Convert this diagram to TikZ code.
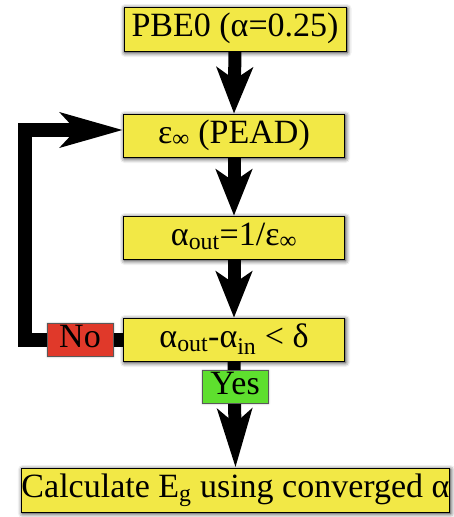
\documentclass[tikz,border=0pt]{standalone}
\usepackage{fontspec}
\setmainfont{Liberation Serif}
\usetikzlibrary{arrows.meta,shadows.blur,backgrounds}
\definecolor{boxyellow}{RGB}{242,232,70}
\definecolor{nored}{RGB}{224,57,42}
\definecolor{yesgreen}{RGB}{94,223,46}
\tikzset{
  boxfont/.style={font=\fontsize{34}{37}\selectfont},
  stepbox/.style={boxfont, draw=black, line width=0.8pt, fill=boxyellow, inner sep=0pt,
    text height=22pt, text depth=7pt,
    blur shadow={shadow xshift=1pt, shadow yshift=-1.5pt, shadow blur radius=4.5pt, shadow opacity=95}},
  tagbox/.style={boxfont, draw=gray!70!black, line width=0.6pt, inner sep=0pt,
    minimum width=66pt, minimum height=33pt, text height=22pt, text depth=7pt,
    blur shadow={shadow xshift=0.5pt, shadow yshift=-0.5pt, shadow blur radius=2pt, shadow opacity=40}},
  flow/.style={line width=13pt, -{Stealth[length=46pt,width=36pt,inset=12pt]}},
}
\begin{document}
\begin{tikzpicture}[x=1pt,y=-1pt]
\useasboundingbox (0,0) rectangle (454,517);
\node[stepbox, minimum width=222pt, minimum height=44pt] (b1) at (235,29) {PBE0 (α=0.25)};
\node[stepbox, minimum width=221pt, minimum height=43pt] (b2) at (234,135.5) {ε\textsubscript{∞} (PEAD)};
\node[stepbox, minimum width=221pt, minimum height=43pt] (b3) at (234,237.5) {α\textsubscript{out}=1/ε\textsubscript{∞}};
\node[stepbox, minimum width=221pt, minimum height=43pt] (b4) at (234,339.5) {α\textsubscript{out}-α\textsubscript{in} {\textless} δ};
\node[stepbox, minimum width=425pt, minimum height=44pt] (b5) at (235.5,490) {Calculate E\textsubscript{g} using converged α};
\node[tagbox, fill=nored] (no) at (80,339.5) {No};
\node[tagbox, fill=yesgreen] (yes) at (235,386.5) {Yes};
\coordinate (lb) at (25,339.5);
\coordinate (lt) at (25,130);
\begin{scope}[on background layer]
\draw[flow] (b1.south) -- (b2.north);
\draw[flow] (b2.south) -- (b3.north);
\draw[flow] (b3.south) -- (b4.north);
\draw[line width=13pt, -{Stealth[length=58pt,width=34pt,inset=14pt]}] (b4.south) -- (b5.north);
\draw[line width=14pt, -{Stealth[length=62pt,width=34pt,inset=15pt]}] (b4.west) -- (lb) -- (lt) -- (lt -| b2.west);
\end{scope}
\end{tikzpicture}
\end{document}
